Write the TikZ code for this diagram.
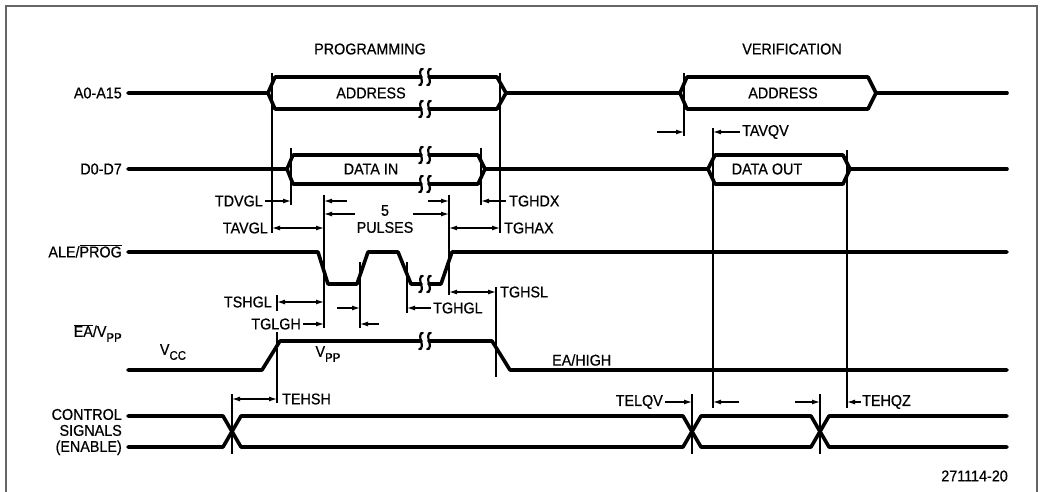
\documentclass[tikz,border=0pt]{standalone}
\usepackage{fontspec}
\setmainfont[FakeBold=0.6,FakeStretch=0.92]{Liberation Sans}
\usetikzlibrary{arrows.meta}
\newcommand\lowsub[1]{\raisebox{-0.32em}{\fontsize{12.5}{13}\selectfont #1}}
\begin{document}
\begin{tikzpicture}[x=1pt,y=-1pt,
 sig/.style={line width=3.6pt, line join=round, line cap=round},
 guide/.style={line width=1.2pt},
 arr/.style={line width=1.2pt, -{Latex[length=8pt,width=5pt]}},
 darr/.style={line width=1.2pt, {Latex[length=8pt,width=5pt]}-{Latex[length=8pt,width=5pt]}},
 lbl/.style={font=\fontsize{15.6}{17}\selectfont, inner sep=0pt},
 brkmark/.pic={\draw[line width=2.2pt, line cap=round] (1.8,-8) .. controls (-1.2,-9) and (-1.2,-3) .. (0,0) .. controls (1.2,3) and (1.2,9) .. (-1.8,8);}
]
\useasboundingbox (0,0) rectangle (1042,492);
\draw[black!60, line width=1.5pt] (6,496) -- (6,6) -- (1037,6) -- (1037,496);

% headers
\node[lbl] (hprog) at (370,49) {PROGRAMMING};
\node[lbl] (hver) at (792,49) {VERIFICATION};

% signal names
\node[lbl, anchor=east] (nA) at (122,93) {A0-A15};
\node[lbl, anchor=east] (nD) at (122,169) {D0-D7};
\node[lbl, anchor=east] (nALE) at (122,251) {ALE/$\overline{\mbox{PROG}}$};
\node[lbl, anchor=east] (nEA) at (122,333) {$\overline{\mbox{EA}}$/V\lowsub{PP}};
\node[lbl, anchor=east, align=right, font=\fontsize{15.6}{16}\selectfont] (nCS) at (122,432) {CONTROL\\SIGNALS\\(ENABLE)};

% A0-A15
\draw[sig] (128,93) -- (268,93) -- (275,77) -- (421,77);
\draw[sig] (429,77) -- (497,77) -- (506,93) -- (497,109) -- (429,109);
\draw[sig] (421,109) -- (275,109) -- (268,93);
\draw[sig] (506,93) -- (680,93);
\draw[sig] (680,93) -- (687,77) -- (868,77) -- (876,93) -- (868,109) -- (687,109) -- cycle;
\draw[sig] (876,93) -- (1007,93);
\foreach \xx/\yy in {421/77,429/77,421/109,429/109} \pic at (\xx,\yy) {brkmark};
\node[lbl] (addr1) at (371,93) {ADDRESS};
\node[lbl] (addr2) at (783,93) {ADDRESS};

% D0-D7
\draw[sig] (128,169) -- (287,169) -- (293,155) -- (421,155);
\draw[sig] (429,155) -- (478,155) -- (485,169) -- (478,184) -- (429,184);
\draw[sig] (421,184) -- (293,184) -- (287,169);
\draw[sig] (485,169) -- (708,169);
\draw[sig] (708,169) -- (715,155) -- (843,155) -- (850,169) -- (843,184) -- (715,184) -- cycle;
\draw[sig] (850,169) -- (1007,169);
\foreach \xx/\yy in {421/155,429/155,421/184,429/184} \pic at (\xx,\yy) {brkmark};
\node[lbl] (din) at (371,169) {DATA IN};
\node[lbl] (dout) at (767,169) {DATA OUT};

% ALE/PROG
\draw[sig] (128,252) -- (318,252) -- (328,284) -- (357,284) -- (368,252) -- (398,252) -- (411,284) -- (421,284);
\draw[sig] (429,284) -- (441,284) -- (452,252) -- (1007,252);
\foreach \xx/\yy in {421/284,429/284} \pic at (\xx,\yy) {brkmark};

% EA/VPP
\draw[sig] (128,370) -- (262,370) -- (280,341) -- (421,341);
\draw[sig] (429,341) -- (492,341) -- (510,370) -- (1007,370);
\foreach \xx/\yy in {421/341,429/341} \pic at (\xx,\yy) {brkmark};
\node[lbl] (vcc) at (173,352) {V\lowsub{CC}};
\node[lbl] (vpp) at (328,354) {V\lowsub{PP}};
\node[lbl, anchor=west] (eahigh) at (552,360) {EA/HIGH};

% control signals
\draw[sig] (128,416) -- (223,416) -- (241,447) -- (683,447) -- (701,416) -- (811,416) -- (829,447) -- (1007,447);
\draw[sig] (128,447) -- (223,447) -- (241,416) -- (683,416) -- (701,447) -- (811,447) -- (829,416) -- (1007,416);

% guide lines
\draw[guide] (272,73) -- (272,233);
\draw[guide] (500,73) -- (500,233);
\draw[guide] (291,148) -- (291,205);
\draw[guide] (481,148) -- (481,205);
\draw[guide] (324,195) -- (324,328);
\draw[guide] (449,195) -- (449,295);
\draw[guide] (360,262) -- (360,328);
\draw[guide] (407,262) -- (407,313);
\draw[guide] (496,287) -- (496,377);
\draw[guide] (277,295) -- (277,311);
\draw[guide] (277,332) -- (277,403);
\draw[guide] (232,394) -- (232,454);
\draw[guide] (684,73) -- (684,136);
\draw[guide] (713,128) -- (713,408);
\draw[guide] (847,150) -- (847,408);
\draw[guide] (692,394) -- (692,454);
\draw[guide] (820,394) -- (820,454);

% timing arrows
\node[lbl, anchor=east] (tdvgl) at (263,201) {TDVGL};
\draw[arr] (265,201) -- (291,201);
\node[lbl, anchor=west] (tghdx) at (509,201) {TGHDX};
\draw[arr] (506,201) -- (481,201);
\node[lbl, anchor=east] (tavgl) at (268,228) {TAVGL};
\draw[darr] (272,228) -- (324,228);
\node[lbl, anchor=west] (tghax) at (504,228) {TGHAX};
\draw[darr] (449,228) -- (500,228);

\draw[arr] (347,201) -- (324,201);
\draw[arr] (355,214) -- (324,214);
\draw[arr] (428,201) -- (449,201);
\draw[arr] (413,214) -- (449,214);
\node[lbl, align=center, font=\fontsize{15.6}{17}\selectfont] (pulses) at (385,219) {5\\PULSES};

\node[lbl, anchor=east] (tshgl) at (272,302) {TSHGL};
\draw[darr] (277,302) -- (324,302);
\node[lbl, anchor=east] (tglgh) at (301,324) {TGLGH};
\draw[arr] (303,324) -- (324,324);
\draw[arr] (337,308) -- (360,308);
\draw[arr] (379,324) -- (360,324);
\node[lbl, anchor=west] (tghgl) at (433,308) {TGHGL};
\draw[arr] (431,308) -- (407,308);
\node[lbl, anchor=west] (tghsl) at (500,292) {TGHSL};
\draw[darr] (449,292) -- (496,292);
\node[lbl, anchor=west] (tehsh) at (282,399) {TEHSH};
\draw[darr] (232,399) -- (277,399);

\draw[arr] (657,132) -- (684,132);
\draw[arr] (740,132) -- (713,132);
\node[lbl, anchor=west] (tavqv) at (742,132) {TAVQV};

\node[lbl, anchor=east] (telqv) at (663,402) {TELQV};
\draw[arr] (665,402) -- (692,402);
\draw[arr] (739,402) -- (713,402);
\draw[arr] (795,402) -- (820,402);
\draw[arr] (861,402) -- (847,402);
\node[lbl, anchor=west] (tehqz) at (862,402) {TEHQZ};

\node[lbl, anchor=east] (fig) at (1008,476) {271114-20};
\end{tikzpicture}
\end{document}
